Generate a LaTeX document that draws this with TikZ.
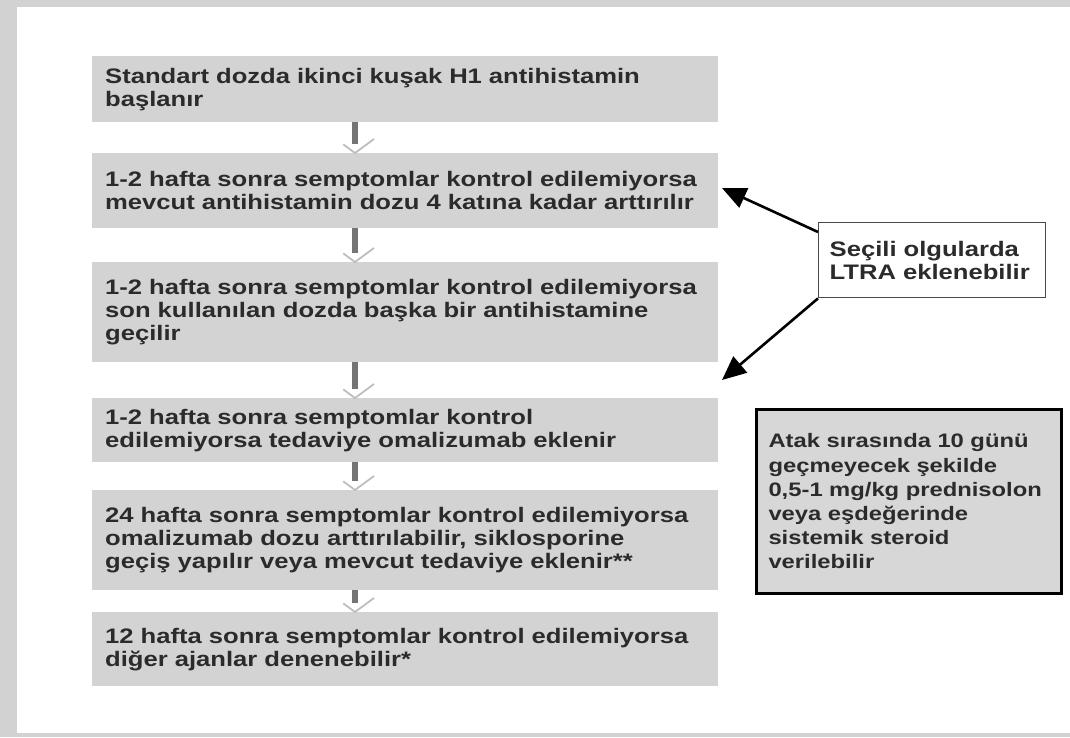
\documentclass[tikz,border=0pt]{standalone}
\usepackage{fontspec}
\setmainfont{Liberation Sans}[FakeStretch=1.22]
\usepackage{tikz}
\usetikzlibrary{arrows.meta,positioning,decorations.markings}
\definecolor{framegray}{HTML}{D2D2D2}
\definecolor{stepgray}{HTML}{D3D3D3}
\definecolor{notegray}{HTML}{D7D7D7}
\definecolor{ink}{HTML}{2B2B2B}
\definecolor{shaftgray}{HTML}{747474}
\definecolor{chevron}{HTML}{BEBEBE}
\definecolor{ltraline}{HTML}{4A4A4A}
\tikzset{
  stepcard/.style={fill=stepgray,anchor=north west,align=left,
                   text width=600pt,inner xsep=13pt,inner ysep=0pt,text=ink,
                   font=\fontsize{21pt}{23pt}\selectfont\bfseries},
  ltracard/.style={draw=ltraline,fill=white,line width=1.4pt,anchor=north west,
                   align=left,text width=205pt,inner xsep=11pt,inner ysep=0pt,
                   minimum height=75pt,text=ink,
                   font=\fontsize{21pt}{23pt}\selectfont\bfseries},
  notecard/.style={draw=black,fill=notegray,line width=3pt,anchor=north west,
                   align=left,text width=281pt,inner xsep=12pt,inner ysep=0pt,
                   minimum height=184pt,text=ink,
                   font=\fontsize{19.5pt}{24.2pt}\selectfont\bfseries},
  downarr/.style={draw=shaftgray,line width=5.5pt,shorten >=9pt,
                  postaction={decorate,decoration={markings,
                    mark=at position 1 with {\draw[chevron,line width=1.8pt,
                      line join=miter] (-14pt,19pt) -- (0,0) -- (-14pt,-19pt);}}}},
  ltraarr/.style={-{Triangle[length=24pt,width=21pt]},line width=2.6pt,draw=black}
}
\begin{document}
\begin{tikzpicture}[x=1pt,y=-1pt]
    \path[use as bounding box] (0,0) rectangle (1070,737);
    \fill[framegray] (0,0) rectangle (1070,737);
    \fill[white] (17,7) rectangle (1070,733);
    \coordinate (spine) at (355,0);
    \node[stepcard,minimum height=66pt] (s1) at (92,56)
      {Standart dozda ikinci kuşak H1 antihistamin\\başlanır};
    \node[stepcard,minimum height=75pt] (s2) at (92,153)
      {1-2 hafta sonra semptomlar kontrol edilemiyorsa\\
       mevcut antihistamin dozu 4 katına kadar arttırılır};
    \node[stepcard,minimum height=100pt] (s3) at (92,262)
      {1-2 hafta sonra semptomlar kontrol edilemiyorsa\\
       son kullanılan dozda başka bir antihistamine\\geçilir};
    \node[stepcard,minimum height=64pt] (s4) at (92,398)
      {1-2 hafta sonra semptomlar kontrol\\
       edilemiyorsa tedaviye omalizumab eklenir};
    \node[stepcard,minimum height=100pt] (s5) at (92,490)
      {24 hafta sonra semptomlar kontrol edilemiyorsa\\
       omalizumab dozu arttırılabilir, siklosporine\\
       geçiş yapılır veya mevcut tedaviye eklenir**};
    \node[stepcard,minimum height=74pt] (s6) at (92,612)
      {12 hafta sonra semptomlar kontrol edilemiyorsa\\
       diğer ajanlar denenebilir*};
    \draw[downarr] (s1.south -| spine) -- (s2.north -| spine);
    \draw[downarr] (s2.south -| spine) -- (s3.north -| spine);
    \draw[downarr] (s3.south -| spine) -- (s4.north -| spine);
    \draw[downarr] (s4.south -| spine) -- (s5.north -| spine);
    \draw[downarr] (s5.south -| spine) -- (s6.north -| spine);
    \node[ltracard] (ltra) at (818,222) {Seçili olgularda\\LTRA eklenebilir};
    \coordinate (ltraup) at (722,188);
    \coordinate (ltradown) at (722,380);
    \draw[ltraarr] ([yshift=-10pt]ltra.north west) -- (ltraup);
    \draw[ltraarr] (ltra.south west) -- (ltradown);
    \node[notecard] (atak) at (755,408)
      {Atak sırasında 10 günü\\geçmeyecek şekilde\\0,5-1 mg/kg prednisolon\\
       veya eşdeğerinde\\sistemik steroid\\verilebilir};
  \end{tikzpicture}
\end{document}
